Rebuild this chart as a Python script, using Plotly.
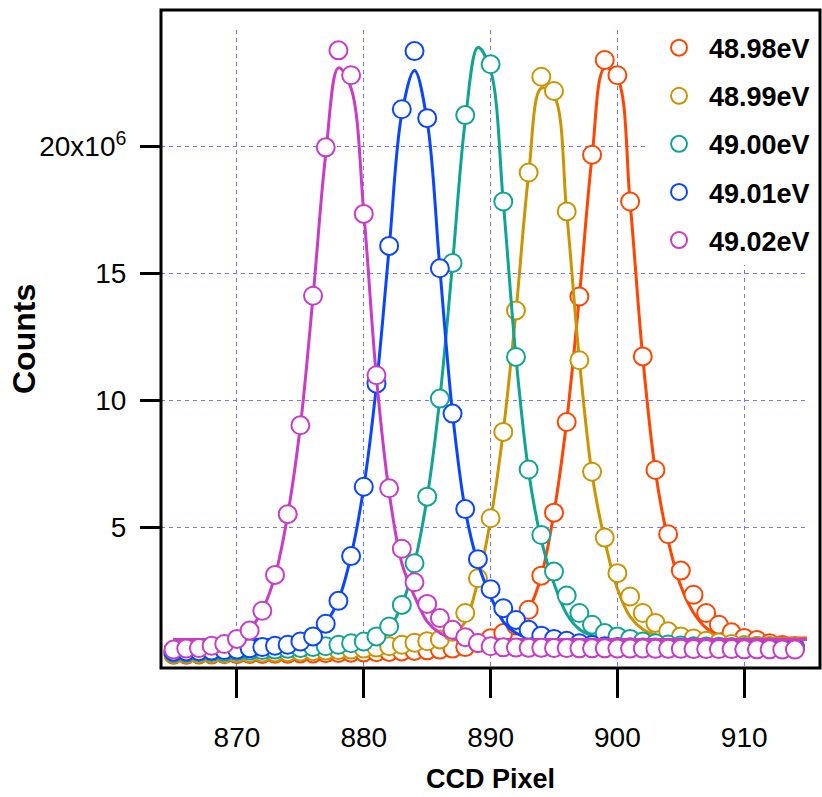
import plotly.graph_objects as go

# CCD pixel index (x axis)
ccd_pixel = list(range(865, 916))

# Measured counts, in units of 10^6, one value per pixel
counts_4898 = [0.00, 0.00, 0.01, 0.01, 0.02, 0.02, 0.03, 0.03, 0.04, 0.04,
               0.05, 0.05, 0.06, 0.07, 0.08, 0.09, 0.10, 0.11, 0.13, 0.15,
               0.17, 0.20, 0.24, 0.30, 0.45, 0.65, 0.85, 1.15, 1.77, 3.11,
               5.59, 9.16, 14.10, 19.68, 23.41, 22.81, 17.84, 11.74, 7.27, 4.74,
               3.31, 2.36, 1.64, 1.18, 0.88, 0.66, 0.58, 0.45, 0.38, 0.33, 0.30]
counts_4899 = [0.02, 0.03, 0.03, 0.04, 0.05, 0.06, 0.07, 0.08, 0.09, 0.10,
               0.12, 0.14, 0.16, 0.18, 0.20, 0.24, 0.28, 0.33, 0.39, 0.47,
               0.53, 0.60, 0.90, 1.64, 3.01, 5.37, 8.77, 13.55, 18.98, 22.75,
               22.19, 17.45, 11.59, 7.20, 4.61, 3.21, 2.29, 1.64, 1.25, 0.92,
               0.72, 0.64, 0.55, 0.48, 0.42, 0.38, 0.35, 0.34, 0.32, 0.31, 0.30]
counts_4900 = [0.08, 0.09, 0.10, 0.11, 0.12, 0.14, 0.16, 0.18, 0.20, 0.23,
               0.26, 0.30, 0.33, 0.39, 0.45, 0.52, 0.72, 1.11, 1.96, 3.60,
               6.22, 10.08, 15.42, 21.24, 24.65, 23.24, 17.84, 11.72, 7.29, 4.71,
               3.27, 2.33, 1.64, 1.18, 0.85, 0.72, 0.62, 0.52, 0.45, 0.40,
               0.36, 0.33, 0.32, 0.31, 0.30, 0.30, 0.29, 0.29, 0.28, 0.28, 0.28]
counts_4901 = [0.12, 0.13, 0.14, 0.16, 0.18, 0.20, 0.25, 0.30, 0.35, 0.39,
               0.52, 0.72, 1.22, 2.12, 3.88, 6.61, 10.67, 16.09, 21.47, 23.76,
               21.12, 15.21, 9.49, 5.73, 3.76, 2.58, 1.83, 1.37, 0.98, 0.75,
               0.62, 0.55, 0.45, 0.38, 0.33, 0.30, 0.29, 0.28, 0.28, 0.27,
               0.27, 0.27, 0.26, 0.26, 0.26, 0.25, 0.25, 0.25, 0.25, 0.24, 0.24]
counts_4902 = [0.20, 0.24, 0.26, 0.35, 0.42, 0.62, 0.95, 1.73, 3.14, 5.53,
               9.03, 14.13, 19.97, 23.79, 22.81, 17.35, 11.00, 6.55, 4.17, 2.85,
               2.00, 1.44, 0.98, 0.69, 0.46, 0.33, 0.29, 0.28, 0.27, 0.27,
               0.26, 0.26, 0.25, 0.25, 0.25, 0.24, 0.24, 0.24, 0.23, 0.23,
               0.23, 0.22, 0.22, 0.22, 0.22, 0.21, 0.21, 0.21, 0.20, 0.20, 0.20]

# Fitted peak profiles, in units of 10^6, at the same pixels
fit_4898 = [0.00, 0.00, 0.00, 0.00, 0.00, 0.00, 0.00, 0.00, 0.00, 0.00,
            0.00, 0.00, 0.00, 0.00, 0.00, 0.00, 0.00, 0.00, 0.00, 0.00,
            0.00, 0.00, 0.05, 0.10, 0.20, 0.35, 0.60, 1.00, 1.75, 3.10,
            5.60, 9.20, 14.10, 19.60, 23.10, 22.70, 17.80, 11.70, 7.20, 4.50,
            2.70, 1.65, 1.05, 0.80, 0.70, 0.66, 0.66, 0.66, 0.66, 0.66, 0.66]
fit_4899 = [0.60, 0.60, 0.60, 0.60, 0.60, 0.60, 0.60, 0.60, 0.60, 0.60,
            0.60, 0.60, 0.60, 0.60, 0.60, 0.60, 0.60, 0.60, 0.60, 0.60,
            0.60, 0.65, 0.80, 1.30, 2.90, 5.30, 8.80, 13.50, 18.90, 22.30,
            22.00, 17.40, 11.60, 7.10, 4.50, 2.60, 1.50, 1.00, 0.78, 0.68,
            0.62, 0.62, 0.62, 0.62, 0.62, 0.62, 0.62, 0.62, 0.62, 0.62, 0.62]
fit_4900 = [0.60, 0.60, 0.60, 0.60, 0.60, 0.60, 0.60, 0.60, 0.60, 0.60,
            0.60, 0.60, 0.60, 0.60, 0.60, 0.60, 0.70, 1.05, 1.95, 3.60,
            6.20, 10.10, 15.40, 21.00, 23.90, 23.00, 17.80, 11.70, 7.20, 4.50,
            2.80, 1.60, 1.00, 0.75, 0.65, 0.60, 0.60, 0.60, 0.60, 0.60,
            0.60, 0.60, 0.60, 0.60, 0.60, 0.60, 0.60, 0.60, 0.60, 0.60, 0.60]
fit_4901 = [0.60, 0.60, 0.60, 0.60, 0.60, 0.60, 0.60, 0.60, 0.60, 0.60,
            0.60, 0.75, 1.25, 2.15, 3.90, 6.60, 10.60, 16.00, 21.30, 23.00,
            21.00, 15.20, 9.50, 5.70, 3.60, 2.30, 1.30, 0.85, 0.65, 0.60,
            0.60, 0.60, 0.60, 0.60, 0.60, 0.60, 0.60, 0.60, 0.60, 0.60,
            0.60, 0.60, 0.60, 0.60, 0.60, 0.60, 0.60, 0.60, 0.60, 0.60, 0.60]
fit_4902 = [0.60, 0.60, 0.60, 0.60, 0.60, 0.65, 1.00, 1.75, 3.10, 5.50,
            9.00, 14.10, 19.70, 23.10, 22.30, 17.40, 10.90, 6.40, 3.60, 2.30,
            1.30, 0.85, 0.65, 0.60, 0.60, 0.60, 0.60, 0.60, 0.60, 0.60,
            0.60, 0.60, 0.60, 0.60, 0.60, 0.60, 0.60, 0.60, 0.60, 0.60,
            0.60, 0.60, 0.60, 0.60, 0.60, 0.60, 0.60, 0.60, 0.60, 0.60, 0.60]

energy_labels = ["48.98eV", "48.99eV", "49.00eV", "49.01eV", "49.02eV"]
series_counts = [counts_4898, counts_4899, counts_4900, counts_4901, counts_4902]
series_fits = [fit_4898, fit_4899, fit_4900, fit_4901, fit_4902]
series_colors = ["#FF4500", "#CC9400", "#0FA494", "#0A46FF", "#C83CC8"]

x_ticks = [870, 880, 890, 900, 910]
y_ticks = [5, 10, 15, 20]
y_tick_text = ["5", "10", "15", "20x10<sup>6</sup>"]

MEGA = 1e6
SANS = "Liberation Sans, Arial, Helvetica, sans-serif"

fig = go.Figure()
for name, counts, fit, color in zip(energy_labels, series_counts, series_fits, series_colors):
    fig.add_trace(go.Scatter(
        x=ccd_pixel, y=[v * MEGA for v in fit], mode="lines",
        line=dict(color=color, width=3, shape="spline", smoothing=1.0),
        showlegend=False, hoverinfo="skip", legendgroup=name))
    fig.add_trace(go.Scatter(
        x=ccd_pixel, y=[v * MEGA for v in counts], mode="markers", name=name,
        legendgroup=name,
        marker=dict(symbol="circle", size=18, color="white",
                    line=dict(color=color, width=2)),
        cliponaxis=False))

# plot frame; the x axis domain stops a little short of its right edge
fig.add_shape(type="rect", xref="paper", yref="paper",
              x0=0, x1=0.99697, y0=0, y1=1.0313,
              line=dict(color="black", width=3), layer="above")

fig.add_annotation(text="<b>CCD Pixel</b>", xref="paper", yref="paper",
                   x=0.4992, y=-0.174, showarrow=False,
                   font=dict(family=SANS, size=27, color="black"),
                   xanchor="center", yanchor="middle")
fig.add_annotation(text="<b>Counts</b>", xref="paper", yref="paper",
                   x=-0.2072, y=0.5157, showarrow=False, textangle=-90,
                   font=dict(family=SANS, size=32, color="black"),
                   xanchor="center", yanchor="middle")

grid_color = "#7474FF"
fig.update_layout(
    width=822, height=797,
    margin=dict(l=161, r=0, t=30, b=129),
    paper_bgcolor="white", plot_bgcolor="white",
    showlegend=True,
    legend=dict(x=0.7383, y=1.010, xanchor="left", yanchor="top",
                bgcolor="white", borderwidth=0, itemwidth=50,
                tracegroupgap=10,
                font=dict(family=SANS, size=27, color="black", weight="bold"),
                traceorder="grouped"),
    xaxis=dict(range=[864.01, 914.95], domain=[0, 0.97731], tickvals=x_ticks,
               ticks="outside", ticklen=29, tickwidth=3, tickcolor="black",
               showline=False, zeroline=False,
               showgrid=True, gridcolor=grid_color, gridwidth=1, griddash="4px,4px",
               tickfont=dict(family=SANS, size=28, color="black"),
               ticklabelstandoff=15),
    yaxis=dict(range=[-0.524 * MEGA, 24.59 * MEGA],
               tickvals=[v * MEGA for v in y_ticks], ticktext=y_tick_text,
               ticks="outside", ticklen=20, tickwidth=3, tickcolor="black",
               showline=False, zeroline=False,
               showgrid=True, gridcolor=grid_color, gridwidth=1, griddash="4px,4px",
               tickfont=dict(family=SANS, size=28, color="black"),
               ticklabelstandoff=8),
)

fig.write_html("out.html")
